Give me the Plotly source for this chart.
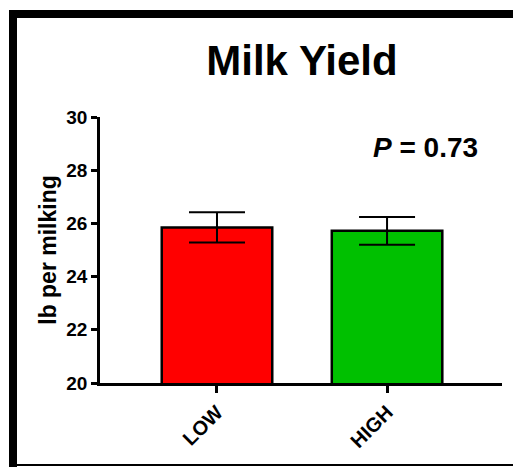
import plotly.graph_objects as go

categories = ["LOW", "HIGH"]
means = [25.85, 25.72]
errors = [0.57, 0.52]
colors = ["#ff0000", "#00c000"]
y_ticks = [20, 22, 24, 26, 28, 30]
title_text = "Milk Yield"
y_title = "lb per milking"
p_text = "<i>P</i> = 0.73"

W, H = 513, 467
L, R, T, B = 100, 11, 117, 84
pw, ph = W - L - R, H - T - B

def px(x):
    return (x - L) / pw

def py(y):
    return (H - B - y) / ph

FONT = "Arial, Liberation Sans, sans-serif"

fig = go.Figure()
fig.add_trace(go.Bar(
    x=[0, 1], y=means,
    width=0.65,
    marker=dict(color=colors, line=dict(color="black", width=2.5)),
    error_y=dict(type="data", array=errors, visible=True,
                 color="black", thickness=2, width=28),
))

fig.update_layout(
    width=W, height=H,
    margin=dict(l=L, r=R, t=T, b=B),
    plot_bgcolor="white", paper_bgcolor="white",
    showlegend=False,
    font=dict(family=FONT, color="black"),
    title=dict(text="<b>%s</b>" % title_text, x=px(302), xref="paper",
               y=1 - 60 / H, yref="container", xanchor="center", yanchor="middle",
               font=dict(size=42, family=FONT, color="black")),
    xaxis=dict(range=[-0.688, 1.676], tickvals=[0, 1], ticktext=categories,
               tickangle=-45, showline=True, linecolor="black", linewidth=2.5,
               ticks="outside", ticklen=7, tickwidth=2.5, tickcolor="black",
               showgrid=False, zeroline=False,
               tickfont=dict(size=20, family=FONT, color="black", weight="bold")),
    yaxis=dict(range=[20, 30], tickvals=y_ticks, showline=True, linecolor="black",
               linewidth=2.5, ticks="outside", ticklen=6, tickwidth=2.5,
               tickcolor="black", showgrid=False, zeroline=False,
               tickfont=dict(size=19, family=FONT, color="black", weight="bold"),
               title=dict(text="<b>%s</b>" % y_title, standoff=4,
                          font=dict(size=23, family=FONT, color="black"))),
)

fig.add_annotation(x=px(425), y=py(147), xref="paper", yref="paper",
                   text="<b>%s</b>" % p_text, showarrow=False,
                   font=dict(size=28, family=FONT, color="black"),
                   xanchor="center", yanchor="middle")

# frame border
shapes = [
    dict(type="rect", xref="paper", yref="paper", x0=px(9), x1=px(17), y0=py(467), y1=py(10),
         fillcolor="black", line=dict(width=0), layer="above"),
    dict(type="rect", xref="paper", yref="paper", x0=px(9), x1=px(513), y0=py(18), y1=py(10),
         fillcolor="black", line=dict(width=0), layer="above"),
    dict(type="rect", xref="paper", yref="paper", x0=px(17), x1=px(513), y0=py(466), y1=py(464),
         fillcolor="black", line=dict(width=0), layer="above"),
]
fig.update_layout(shapes=shapes)

fig.write_html("out.html", config={"displayModeBar": False},
               post_script="document.body.style.margin='0';document.body.style.overflow='hidden';")
